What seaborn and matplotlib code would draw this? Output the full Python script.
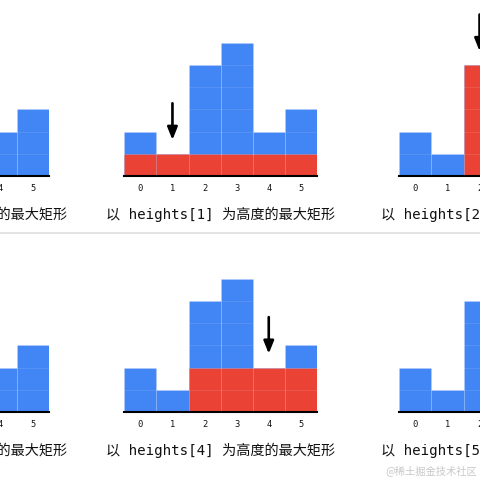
import numpy as np
import pandas as pd
import seaborn as sns
import matplotlib.pyplot as plt
from matplotlib.lines import Line2D

# histogram from the "largest rectangle in histogram" example
heights = [2, 1, 5, 6, 2, 3]
positions = ['0', '1', '2', '3', '4', '5']
# which bar each panel uses as the rectangle height (row by row)
targets = [[0, 1, 2], [3, 4, 5]]
title_fmt = '以 heights[{}] 为高度的最大矩形'
watermark = '@稀土掘金技术社区'

blue = '#4285f4'
red = '#ea4335'

sns.set_style('white')
plt.rcParams['font.family'] = ['DejaVu Sans Mono', 'Noto Sans CJK SC']


def rect_span(h, i):
    """
    Widest run of bars around i that are at least as tall as bar i
    """
    left = i
    while left > 0 and h[left - 1] >= h[i]:
        left -= 1
    right = i
    while right < len(h) - 1 and h[right + 1] >= h[i]:
        right += 1
    return left, right


fig = plt.figure(figsize=(4.8, 4.8), dpi=100)
W = H = 480.0
unit_x = 32.1
unit_y = 22.2
panel_left = [-144, 124.3, 399.3]   # pixels
baselines = [176, 412]               # pixels from top
ymax = 7.5
cell_line = (1, 1, 1, 0.1)

base_df = pd.DataFrame({'pos': positions, 'height': heights})

for row, base in enumerate(baselines):
    for col, x0 in enumerate(panel_left):
        i = targets[row][col]
        ax = fig.add_axes([x0 / W, (H - base) / H, 6 * unit_x / W, ymax * unit_y / H])
        ax.patch.set_visible(False)

        left, right = rect_span(heights, i)
        red_df = pd.DataFrame({'pos': positions[left:right + 1],
                               'height': [heights[i]] * (right - left + 1)})

        sns.barplot(data=base_df, x='pos', y='height', order=positions, color=blue,
                    saturation=1, width=1, edgecolor=cell_line, linewidth=0.8, ax=ax)
        sns.barplot(data=red_df, x='pos', y='height', order=positions, color=red,
                    saturation=1, width=1, edgecolor=cell_line, linewidth=0.8, ax=ax)

        # unit cell lines inside each bar
        for j, h in enumerate(heights):
            for k in range(1, h):
                ax.hlines(k, j - 0.5, j + 0.5, color=cell_line, lw=0.8)

        ax.annotate('', xy=(i, heights[i] + 0.5), xytext=(i, heights[i] + 2.4),
                    arrowprops=dict(arrowstyle='-|>,head_length=0.75,head_width=0.3',
                                    color='black', lw=1.9, mutation_scale=10),
                    annotation_clip=False)

        ax.set_xlim(-0.5, 5.5)
        ax.set_ylim(0, ymax)
        ax.set_xlabel('')
        ax.set_ylabel('')
        ax.set_yticks([])
        for s in ['top', 'right', 'left']:
            ax.spines[s].set_visible(False)
        ax.spines['bottom'].set_color('black')
        ax.spines['bottom'].set_linewidth(1.5)
        ax.tick_params(axis='x', length=0, pad=6, labelsize=6.3, colors='#111111')

        ax.annotate(title_fmt.format(i), xy=(0.5, 0), xycoords='axes fraction',
                    xytext=(0, -27.4), textcoords='offset points',
                    ha='center', va='center', fontsize=10.2, color='#111111')

# separator between the two rows
fig.add_artist(Line2D([0, 1], [1 - 232.5 / H, 1 - 232.5 / H],
                      transform=fig.transFigure, color='#dcdcdc', lw=1.1))

fig.text(477 / W, 1 - 471 / H, watermark, ha='right', va='center',
         fontsize=7.4, color='#c8c8c8', family=['Noto Sans CJK SC', 'DejaVu Sans'])

fig.savefig('out.png', dpi=100)
